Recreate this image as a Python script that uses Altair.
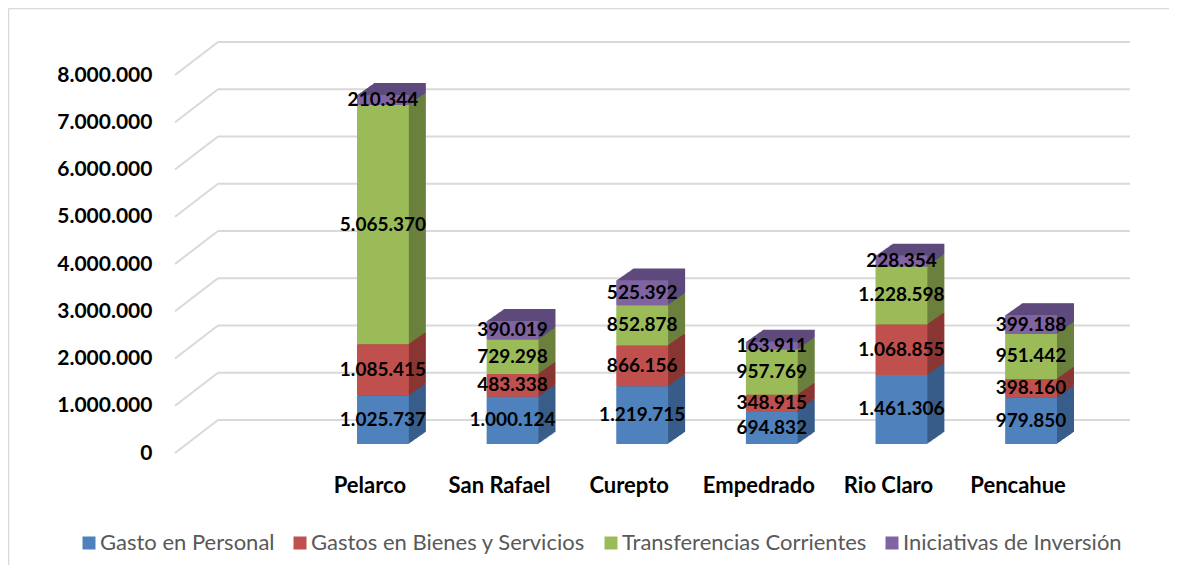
import altair as alt
import pandas as pd

categories = ["Pelarco", "San Rafael", "Curepto", "Empedrado", "Rio Claro", "Pencahue"]
series = ["Gasto en Personal", "Gastos en Bienes y Servicios",
          "Transferencias Corrientes", "Iniciativas de Inversión"]
gasto_personal = [1025737, 1000124, 1219715, 694832, 1461306, 979850]
gastos_bienes = [1085415, 483338, 866156, 348915, 1068855, 398160]
transferencias = [5065370, 729298, 852878, 957769, 1228598, 951442]
inversion = [210344, 390019, 525392, 163911, 228354, 399188]
tick_values = [0, 1000000, 2000000, 3000000, 4000000, 5000000, 6000000, 7000000, 8000000]

face_colors = ["#4F81BD", "#C0504D", "#9BBB59", "#8064A2"]
side_colors = ["#385D8A", "#8A3633", "#6A803D", "#5E4A7C"]

rows = []
for i, (name, vals) in enumerate(zip(series, [gasto_personal, gastos_bienes, transferencias, inversion])):
    for c, v in zip(categories, vals):
        rows.append({"cat": c, "serie": name, "order": i, "value": v,
                     "label": f"{v:,}".replace(",", "."), "side": side_colors[i]})
df = pd.DataFrame(rows)
grid = pd.DataFrame({"v": tick_values})
one = pd.DataFrame({"a": [0]})

Y = alt.Scale(domain=[0, 8000000], nice=False, zero=True)
X = alt.Scale(domain=categories, range=[182, 882], paddingInner=0.6, paddingOuter=0)

X_AXIS = alt.Axis(labelFont="Lato", labelFontWeight="bold", labelFontSize=22,
                  labelColor="black", labelOffset=-13, labelPadding=48,
                  labelBaseline="alphabetic", domain=False, ticks=False,
                  tickSize=0, grid=False, labelAngle=0)
Y_AXIS = alt.Axis(values=tick_values,
                  labelExpr="replace(format(datum.value, ','), regexp(',', 'g'), '.')",
                  labelFont="Lato", labelFontWeight="bold", labelFontSize=21,
                  labelColor="black", labelPadding=23, labelOffset=9,
                  ticks=False, tickSize=0, domain=False, grid=False)


def xe():
    return alt.X("cat:N", scale=X, title=None, axis=X_AXIS)


def ye(field):
    return alt.Y(field, scale=Y, title=None, axis=Y_AXIS)


GRID = "#d9d9d9"

back = alt.Chart(grid).mark_rule(color=GRID, strokeWidth=2, yOffset=-24).encode(
    y=ye("v:Q"), x=alt.value(43), x2=alt.value(955))

diag = alt.Chart(grid).mark_rule(color=GRID, strokeWidth=2, yOffset=9, y2Offset=-24).encode(
    y=ye("v:Q"), y2="v:Q", x=alt.value(0), x2=alt.value(43))

border_top = alt.Chart(one).mark_rule(color=GRID, strokeWidth=1.5).encode(
    x=alt.value(-166.5), x2=alt.value(994), y=alt.value(-57.5))
border_left = alt.Chart(one).mark_rule(color=GRID, strokeWidth=1.5).encode(
    x=alt.value(-166.5), y=alt.value(-57.5), y2=alt.value(499))

base = alt.Chart(df).transform_stack(
    stack="value", groupby=["cat"], as_=["y0", "y1"],
    sort=[alt.SortField("order", order="ascending")])

layers = [back, diag, border_top, border_left]
DEPTH = 17
for d in range(DEPTH, 0, -1):
    dy = -0.7 * d
    layers.append(base.mark_bar(xOffset=d, yOffset=dy, y2Offset=dy).encode(
        x=xe(), y=ye("y0:Q"), y2="y1:Q",
        color=alt.Color("side:N", scale=None)))

front = base.mark_bar().encode(
    x=xe(), y=ye("y0:Q"), y2="y1:Q",
    color=alt.Color("serie:N", scale=alt.Scale(domain=series, range=face_colors),
                    legend=alt.Legend(orient="none", legendX=-97, legendY=466,
                                      direction="horizontal", title=None,
                                      symbolType="square", symbolSize=169,
                                      symbolStrokeWidth=0, symbolOpacity=1,
                                      labelFont="Lato", labelFontSize=22,
                                      labelColor="#595959", labelOffset=0,
                                      labelLimit=1000,
                                      columnPadding=14, padding=0)))
layers.append(front)

labels = base.transform_calculate(mid="(datum.y0 + datum.y1) / 2").mark_text(
    font="Lato", fontWeight="bold", fontSize=19, color="black", baseline="middle").encode(
    x=xe(), y=ye("mid:Q"), text="label:N")
layers.append(labels)

chart = alt.layer(*layers).properties(
    width=955, height=378,
    autosize=alt.AutoSizeParams(type="none"),
    padding={"left": 167, "top": 58, "right": 39, "bottom": 121},
    background="white",
).configure_view(strokeWidth=0)

chart.save("out.html", embed_options={"renderer": "svg", "actions": False})
